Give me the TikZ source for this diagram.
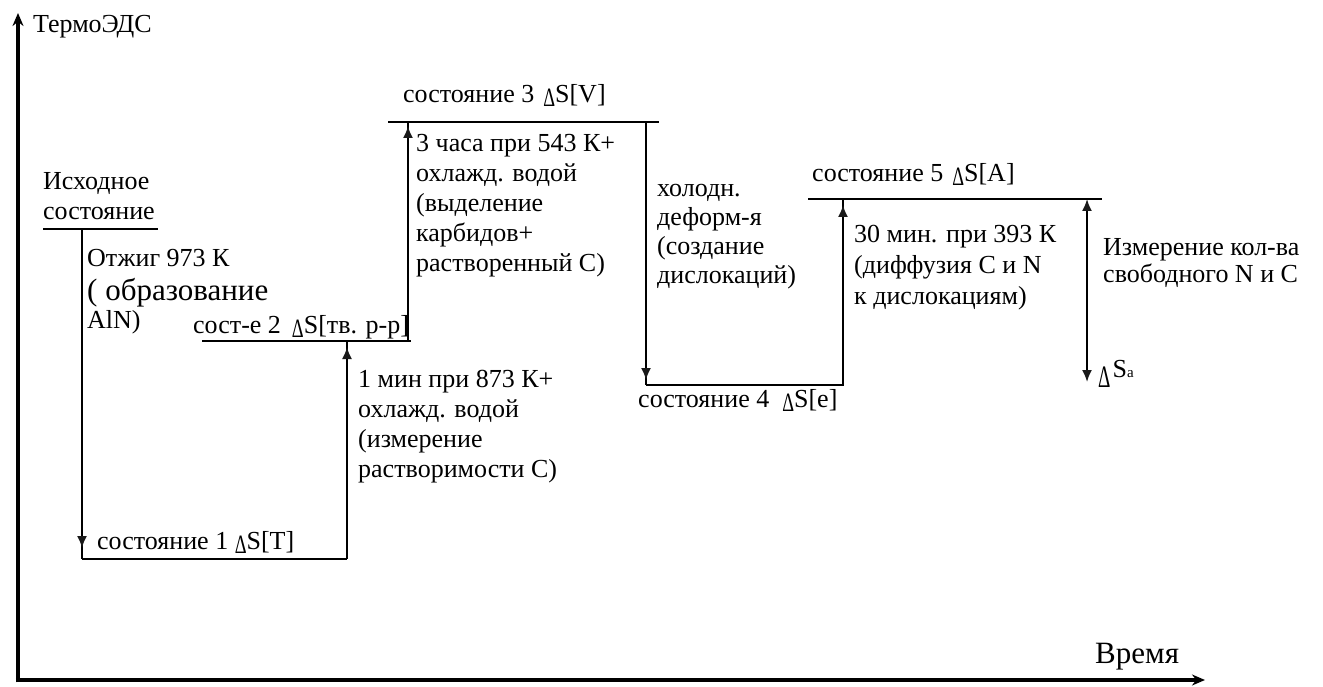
\documentclass[tikz,border=0pt]{standalone}
\usepackage{fontspec}
\setmainfont{Liberation Serif}
\usetikzlibrary{arrows.meta}
% multi-line text block whose baseline is the baseline of its first line
\newcommand\txtstack[1]{\vtop{\lineskip=0pt\halign{##\hfil\cr#1\crcr}}}
% narrow hollow delta, sitting a little below the baseline
\newcommand\dlt{\raisebox{-4pt}{\scalebox{0.8}[1.15]{\fontsize{23}{23}\selectfont Δ}}}
\newcommand\dS{\dlt S}
\begin{document}
\begin{tikzpicture}[x=1pt,y=-1pt,
  lbl/.style={anchor=base west,inner sep=0pt,font=\fontsize{26}{30}\selectfont},
  big/.style={anchor=base west,inner sep=0pt,font=\fontsize{31}{31}\selectfont},
  axis/.style={line width=4.5pt,-{Stealth[length=13pt,width=11pt]}},
  level/.style={line width=1.8pt},
  tip/.style={line width=1.8pt,-{Latex[length=12pt,width=10pt,color=black!90]}},
  twotip/.style={line width=1.8pt,{Latex[length=12pt,width=10pt,color=black!90]}-{Latex[length=12pt,width=10pt,color=black!90]}}
]
\useasboundingbox (0,0) rectangle (1323,687);

% axes
\coordinate (Ybot) at (18,682.25);
\coordinate (Ytop) at (18,13);
\coordinate (Xbeg) at (15.75,680);
\coordinate (Xend) at (1205,680);
\draw[axis] (Ybot) -- (Ytop);
\draw[axis] (Xbeg) -- (Xend);
\node[lbl] (ylab) at (33,33) {ТермоЭДС};
\node[big] (xlab) at (1095,663) {Время};

% energy levels (left end, right end)
\coordinate (L0a) at (43,229);   \coordinate (L0b) at (158,229);
\coordinate (L1a) at (82,559);   \coordinate (L1b) at (347,559);
\coordinate (L2a) at (202,341);  \coordinate (L2b) at (411,341);
\coordinate (L3a) at (388,122);  \coordinate (L3b) at (659,122);
\coordinate (L4a) at (646,385);  \coordinate (L4b) at (844,385);
\coordinate (L5a) at (808,199);  \coordinate (L5b) at (1102,199);

\foreach \n in {0,...,5} {\draw[level] (L\n a) -- (L\n b);}

% transitions between the levels
\coordinate (V1t) at (82,229);   \coordinate (V1h) at (82,548);
\coordinate (V2b) at (347,559);  \coordinate (V2h) at (347,347);
\coordinate (V3b) at (408,341);  \coordinate (V3t) at (408,122); \coordinate (V3h) at (408,126);
\coordinate (V4t) at (646,122);  \coordinate (V4h) at (646,380);
\coordinate (V5b) at (843,385);  \coordinate (V5t) at (843,199); \coordinate (V5h) at (843,205);
\coordinate (V6t) at (1087,199); \coordinate (V6b) at (1087,382);

\draw[level] (V1t) -- (L1a);
\draw[tip] (V1t) -- (V1h);
\draw[level] (V2b) -- (L2a -| V2b);
\draw[tip] (V2b) -- (V2h);
\draw[level] (V3b) -- (V3t);
\draw[tip] (V3b) -- (V3h);
\draw[level] (V4t) -- (L4a);
\draw[tip] (V4t) -- (V4h);
\draw[level] (V5b) -- (V5t);
\draw[tip] (V5b) -- (V5h);
\draw[twotip] (V6t) -- (V6b);

% labels of the levels
\node[lbl] (s0) at (43,190) {\txtstack{Исходное\cr состояние}};
\node[lbl] (s1) at (97,549) {состояние 1 \dS[T]};
\node[lbl] (s2) at (193,333) {сост-е 2\hspace{11pt}\dS[тв. р-р]};
\node[lbl] (s3) at (403,103) {состояние 3\hspace{9pt}\dS[V]};
\node[lbl] (s4) at (638,407) {состояние 4\hspace{13pt}\dS[e]};
\node[lbl] (s5) at (812,182) {состояние 5\hspace{9pt}\dS[A]};

% labels of the treatments
\node[lbl] (t1) at (87,267) {Отжиг 973 К};
\node[big] (t1b) at (87,300) {( образование};
\node[lbl] (t1c) at (87,328) {AlN)};
\node[lbl] (t2) at (358,387) {\txtstack{1 мин при 873 К+\cr охлажд. водой\cr (измерение\cr растворимости С)}};
\node[lbl] (t3) at (416,152) {\txtstack{3 часа при 543 К+\cr охлажд. водой\cr (выделение\cr карбидов+\cr растворенный С)}};
\node[lbl,font=\fontsize{26}{29}\selectfont] (t4) at (657,197) {\txtstack{холодн.\cr деформ-я\cr (создание\cr дислокаций)}};
\node[lbl,font=\fontsize{26}{31}\selectfont] (t5) at (854,243) {\txtstack{30 мин. при 393 К\cr (диффузия С и N\cr к дислокациям)}};
\node[lbl,font=\fontsize{26}{28}\selectfont] (t6) at (1103,255) {\txtstack{Измерение кол-ва\cr свободного N и С}};
\node[lbl] (ds) at (1098,377) {\raisebox{-10pt}{\scalebox{0.8}[1.3]{\fontsize{24}{24}\selectfont Δ}}\hspace{2pt}S{\fontsize{15}{15}\selectfont a}};
\end{tikzpicture}
\end{document}
